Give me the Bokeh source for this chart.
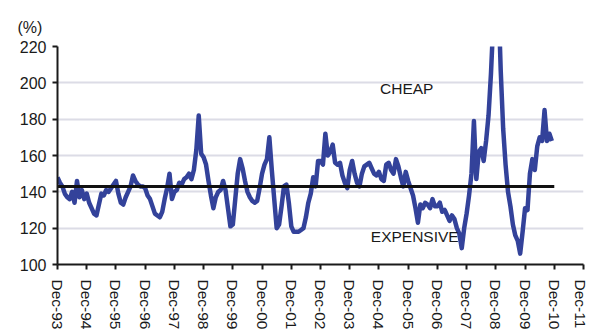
from bokeh.plotting import figure
from bokeh.models import Range1d, FixedTicker, Label, ColumnDataSource
from bokeh.embed import file_html
from bokeh.resources import INLINE

# Monthly valuation ratio (%), starting Dec-93 (month index 0)
values_93_94 = [148, 145, 143, 139, 137, 136, 140, 134, 146, 137, 141, 136]
values_94_95 = [139, 134, 131, 128, 127, 133, 139, 138, 141, 140, 142, 144]
values_95_96 = [146, 139, 134, 133, 137, 140, 143, 149, 146, 144, 143, 143]
values_96_97 = [142, 138, 136, 132, 128, 127, 126, 129, 136, 142, 150, 136]
values_97_98 = [140, 141, 145, 144, 147, 148, 150, 147, 152, 163, 182, 161]
values_98_99 = [159, 155, 146, 138, 131, 137, 140, 141, 146, 141, 131, 121]
values_99_00 = [122, 136, 150, 158, 153, 146, 140, 137, 135, 134, 135, 142]
values_00_01 = [150, 155, 158, 170, 152, 136, 120, 122, 132, 143, 144, 134]
values_01_02 = [121, 118, 118, 118, 119, 120, 126, 134, 139, 148, 143, 157]
values_02_03 = [157, 155, 172, 160, 162, 166, 156, 155, 156, 149, 145, 142]
values_03_04 = [152, 157, 150, 145, 143, 150, 154, 155, 156, 153, 150, 149]
values_04_05 = [151, 147, 146, 155, 156, 152, 150, 158, 154, 148, 143, 151]
values_05_06 = [146, 142, 138, 131, 123, 133, 131, 134, 133, 131, 136, 132]
values_06_07 = [132, 134, 129, 130, 127, 124, 127, 125, 120, 117, 109, 120]
values_07_08 = [128, 138, 150, 179, 147, 162, 164, 157, 168, 182, 205, 235]
values_08_09 = [300, 250, 207, 175, 155, 140, 132, 122, 116, 113, 106, 118]
values_09_10 = [131, 130, 150, 158, 152, 165, 170, 168, 185, 168, 172, 168]

series = (values_93_94 + values_94_95 + values_95_96 + values_96_97 + values_97_98
          + values_98_99 + values_99_00 + values_00_01 + values_01_02 + values_02_03
          + values_03_04 + values_04_05 + values_05_06 + values_06_07 + values_07_08
          + values_08_09 + values_09_10)
months = list(range(len(series)))

average_level = 143
average_span = [0, 204]

tick_labels = ["Dec-93", "Dec-94", "Dec-95", "Dec-96", "Dec-97", "Dec-98", "Dec-99",
               "Dec-00", "Dec-01", "Dec-02", "Dec-03", "Dec-04", "Dec-05", "Dec-06",
               "Dec-07", "Dec-08", "Dec-09", "Dec-10", "Dec-11"]
y_ticks = [100, 120, 140, 160, 180, 200, 220]

FONT = "Liberation Sans"

p = figure(width=588, height=332, output_backend="svg", toolbar_location=None,
           x_range=Range1d(0, 216), y_range=Range1d(100, 220),
           min_border_left=57, min_border_top=46, min_border_right=5, min_border_bottom=66,
           title="(%)")
p.outline_line_color = None
p.background_fill_color = "white"
p.title.align = "left"
p.title.offset = -40
p.title.standoff = 22
p.title.text_font = FONT
p.title.text_font_size = "16px"
p.title.text_font_style = "normal"
p.title.text_color = "#1a1a1a"

# axes
x_ticks = [12 * i for i in range(len(tick_labels))]
p.xaxis.ticker = FixedTicker(ticks=x_ticks)
p.xaxis.major_label_overrides = {t: l for t, l in zip(x_ticks, tick_labels)}
p.xaxis.major_label_orientation = "vertical"
p.yaxis.ticker = FixedTicker(ticks=y_ticks)
for ax in (p.xaxis, p.yaxis):
    ax.axis_line_color = "#1a1a1a"
    ax.axis_line_width = 2
    ax.major_tick_line_color = "#1a1a1a"
    ax.major_tick_line_width = 2
    ax.major_tick_in = 0
    ax.major_tick_out = 5
    ax.minor_tick_line_color = None
    ax.major_label_text_font = FONT
    ax.major_label_text_color = "#1a1a1a"
p.xaxis.major_label_text_font_size = "15.5px"
p.yaxis.major_label_text_font_size = "16px"
p.xaxis.major_label_standoff = 10
p.yaxis.major_label_standoff = 6

p.xgrid.grid_line_color = None
p.ygrid.grid_line_color = "#dcdce6"
p.ygrid.grid_line_width = 2

src = ColumnDataSource(dict(x=months, y=series))
p.line("x", "y", source=src, line_color="#33429a", line_width=4.5, line_join="round")
p.line(average_span, [average_level, average_level], line_color="#111111", line_width=3)

p.add_layout(Label(x=143.4, y=197, text="CHEAP", text_align="center", text_baseline="middle",
                   text_font=FONT, text_font_size="15.5px", text_color="#1a1a1a"))
p.add_layout(Label(x=146.7, y=115.5, text="EXPENSIVE", text_align="center", text_baseline="middle",
                   text_font=FONT, text_font_size="15.5px", text_color="#1a1a1a"))

open("out.html", "w").write(file_html(p, INLINE))
